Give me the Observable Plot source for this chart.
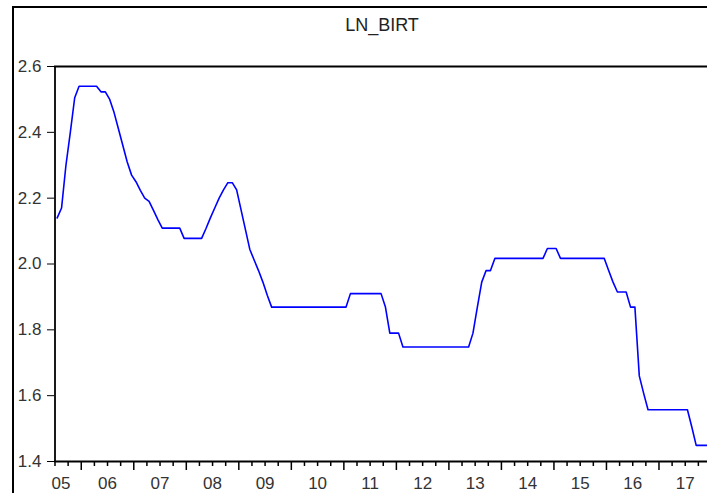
<!DOCTYPE html>
<html>
<head>
<meta charset="utf-8">
<script src="https://cdn.jsdelivr.net/npm/d3@7"></script>
<script src="https://cdn.jsdelivr.net/npm/@observablehq/plot@0.6"></script>
<style>
html, body { margin: 0; padding: 0; background: #fff; overflow: hidden; width: 707px; height: 493px; }
#wrap { position: relative; width: 707px; height: 493px; overflow: hidden; font-family: Arial, "Liberation Sans", sans-serif; }
#border { position: absolute; left: 12px; top: 6px; width: 800px; height: 600px; border-top: 2px solid #000; border-left: 2px solid #000; }
#title { position: absolute; left: 0; width: 764px; top: 15px; text-align: center; font-size: 18px; color: #222; }
#chart { position: absolute; left: 0; top: 0; }
#chart svg { overflow: hidden; }
</style>
</head>
<body>
<div id="wrap">
  <div id="border"></div>
  <div id="title"></div>
  <div id="chart"></div>
</div>
<script>
// ---- data (monthly, 2005M07 .. 2017M12) ----
const seriesName = "LN_BIRT";
const startYear = 2005;
const startMonth = 7;
const ln_birt = [
  2.14, 2.17, 2.30, 2.40, 2.505, 2.54,                       // 2005 Jul-Dec
  2.54, 2.54, 2.54, 2.54, 2.523, 2.523, 2.50, 2.46, 2.41, 2.36, 2.31, 2.27, // 2006
  2.25, 2.224, 2.20, 2.19, 2.163, 2.135, 2.109, 2.109, 2.109, 2.109, 2.109, 2.078, // 2007
  2.078, 2.078, 2.078, 2.078, 2.108, 2.14, 2.17, 2.20, 2.225, 2.247, 2.247, 2.225, // 2008
  2.165, 2.105, 2.045, 2.012, 1.98, 1.945, 1.905, 1.869, 1.869, 1.869, 1.869, 1.869, // 2009
  1.869, 1.869, 1.869, 1.869, 1.869, 1.869, 1.869, 1.869, 1.869, 1.869, 1.869, 1.869, // 2010
  1.869, 1.91, 1.91, 1.91, 1.91, 1.91, 1.91, 1.91, 1.91, 1.869, 1.79, 1.79,         // 2011
  1.79, 1.748, 1.748, 1.748, 1.748, 1.748, 1.748, 1.748, 1.748, 1.748, 1.748, 1.748, // 2012
  1.748, 1.748, 1.748, 1.748, 1.748, 1.79, 1.869, 1.945, 1.98, 1.98, 2.017, 2.017, // 2013
  2.017, 2.017, 2.017, 2.017, 2.017, 2.017, 2.017, 2.017, 2.017, 2.017, 2.047, 2.047, // 2014
  2.047, 2.017, 2.017, 2.017, 2.017, 2.017, 2.017, 2.017, 2.017, 2.017, 2.017, 2.017, // 2015
  1.98, 1.945, 1.915, 1.915, 1.915, 1.869, 1.869, 1.66, 1.607, 1.557, 1.557, 1.557, // 2016
  1.557, 1.557, 1.557, 1.557, 1.557, 1.557, 1.557, 1.505, 1.449, 1.449, 1.449, 1.449  // 2017
];
const yTicks = [1.4, 1.6, 1.8, 2.0, 2.2, 2.4, 2.6];
const years = [2005, 2006, 2007, 2008, 2009, 2010, 2011, 2012, 2013, 2014, 2015, 2016, 2017];
const yearLabels = ["05", "06", "07", "08", "09", "10", "11", "12", "13", "14", "15", "16", "17"];

// ---- derived table ----
const data = ln_birt.map((v, i) => ({ t: startYear + (startMonth - 1 + i) / 12 + 1 / 24, v }));
const t0 = startYear + (startMonth - 1) / 12;
const t1 = 2018;
const quarters = d3.range(t0, t1 + 1e-9, 0.25);
const minorTicks = quarters.filter(q => Math.abs(q - Math.round(q)) > 1e-6 || q === t0);
const majorTicks = years.filter(y => y > t0);
const labelPos = years.map(y => Math.max(y + 0.5, t0 + 0.115));
const labelMap = new Map(labelPos.map((p, i) => [p, yearLabels[i]]));

document.getElementById("title").textContent = seriesName;

const W = 707, H = 493;
const mL = 54, mT = 66, mB = 32;
const chart = Plot.plot({
  width: W,
  height: H,
  marginLeft: mL,
  marginRight: 0,
  marginTop: mT,
  marginBottom: mB,
  style: { fontFamily: "Arial, 'Liberation Sans', sans-serif", background: "transparent", overflow: "hidden" },
  x: { domain: [t0, t1], range: [mL + 0.5, 711] },
  y: { domain: [1.4, 2.6], range: [H - mB, mT] },
  marks: [
    Plot.ruleY([2.6], { stroke: "#000", strokeWidth: 1.8 }),
    Plot.ruleY([1.4], { stroke: "#000", strokeWidth: 1.8 }),
    Plot.ruleX([t0], { stroke: "#000", strokeWidth: 1.8 }),
    Plot.axisY({ ticks: yTicks, tickSize: 7, tickPadding: 6, tickFormat: d => d.toFixed(1), fontSize: 17, color: "#000", fill: "#333", label: null }),
    Plot.axisX({ ticks: minorTicks, tickSize: 5, tickFormat: () => "", label: null, strokeWidth: 1.5 }),
    Plot.axisX({ ticks: majorTicks, tickSize: 9, tickFormat: () => "", label: null, strokeWidth: 1.5 }),
    Plot.axisX({ ticks: labelPos, tickSize: 0, tickPadding: 15, tickFormat: d => labelMap.get(d), fontSize: 17, fill: "#333", label: null }),
    Plot.line(data, { x: "t", y: "v", stroke: "#0000ff", strokeWidth: 1.6 })
  ]
});
document.getElementById("chart").appendChild(chart);
</script>
</body>
</html>
